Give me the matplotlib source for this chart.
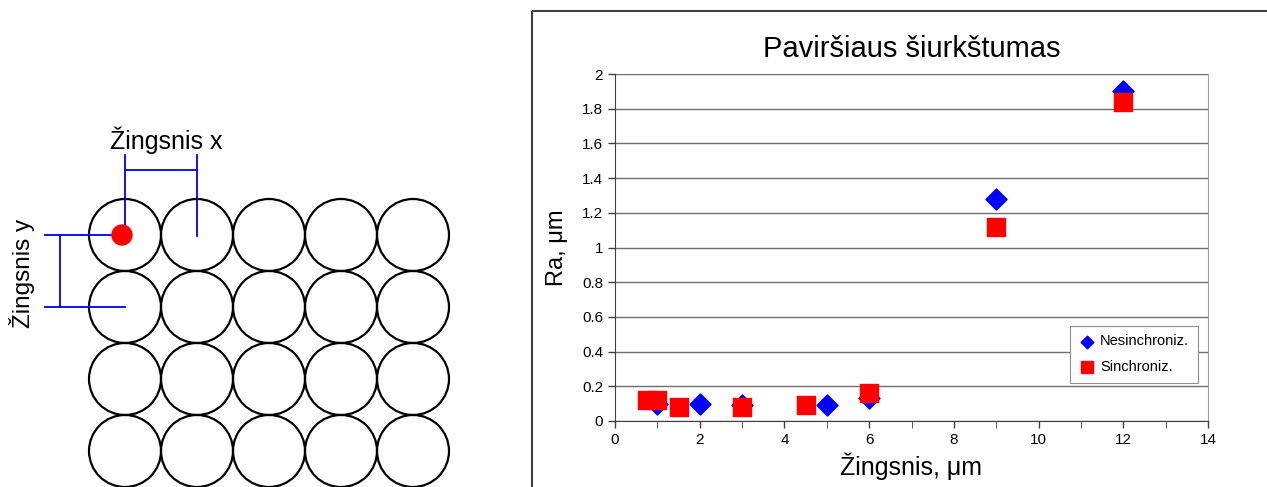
import numpy as np
import matplotlib.pyplot as plt
from matplotlib.patches import Circle, Rectangle

plt.rcParams['font.family'] = ['Liberation Sans', 'DejaVu Sans']

# Duomenys: paviršiaus šiurkštumas Ra (µm) pagal žingsnį (µm)
nesinch_x = [1, 2, 3, 5, 6, 9, 12]
nesinch_ra = [0.10, 0.10, 0.09, 0.09, 0.13, 1.28, 1.90]
sinch_x = [0.75, 1, 1.5, 3, 4.5, 6, 9, 12]
sinch_ra = [0.12, 0.12, 0.08, 0.08, 0.09, 0.16, 1.12, 1.84]

x_ticks = np.arange(0, 15, 2)
y_ticks = np.arange(0, 2.01, 0.2)

# Schemos tinklelis (apskritimų eilės ir stulpeliai)
n_cols = 5
n_rows = 4

W, H = 1267, 487
fig = plt.figure(figsize=(W / 100, H / 100), dpi=100)

# Fono ašys pikseliais: schema + diagramos rėmelis
bg = fig.add_axes([0, 0, 1, 1])
bg.set_xlim(0, W)
bg.set_ylim(H, 0)
bg.axis('off')

# apskritimai
x0, y0, pitch = 125, 235, 72
r = pitch / 2
for i in range(n_rows):
    for j in range(n_cols):
        bg.add_patch(Circle((x0 + j * pitch, y0 + i * pitch), r, fill=False,
                            ec='black', lw=1.6))

# įrankio taškas
bg.add_patch(Circle((x0 - 3, y0), 10, color='red', zorder=5))

# žingsnio x matmuo
blue = '#0000ee'
bg.plot([x0, x0], [155, y0], color=blue, lw=1.3)
bg.plot([x0 + pitch, x0 + pitch], [155, y0 + 1], color=blue, lw=1.3)
bg.plot([x0, x0 + pitch], [170, 170], color=blue, lw=1.3)
bg.text(x0 + pitch / 2 + 5, 140, 'Žingsnis x', fontsize=18, ha='center', va='center')

# žingsnio y matmuo
bg.plot([45, x0 - 12], [y0, y0], color=blue, lw=1.3)
bg.plot([45, x0], [y0 + pitch, y0 + pitch], color=blue, lw=1.3)
bg.plot([60, 60], [y0, y0 + pitch], color=blue, lw=1.3)
bg.text(22, 273, 'Žingsnis y', fontsize=17.5, ha='center', va='center', rotation=90)

# diagramos rėmelis
bg.add_patch(Rectangle((532, 11), 800, 600, fill=False, ec='#404040', lw=1.5))

# Diagrama
ax = fig.add_axes([615 / W, 1 - 421 / H, 593 / W, 347 / H])
ax.scatter(nesinch_x, nesinch_ra, marker='D', s=115, color='#0000ff',
           label='Nesinchroniz.', zorder=3, clip_on=False)
ax.scatter(sinch_x, sinch_ra, marker='s', s=185, color='#ff0000',
           label='Sinchroniz.', zorder=4, clip_on=False)

ax.set_xlim(0, 14)
ax.set_ylim(0, 2)
ax.set_xticks(x_ticks)
ax.set_xticks(np.arange(0, 15, 1), minor=True)
ax.set_yticks(y_ticks)
ax.set_xticklabels([f'{v:g}' for v in x_ticks])
ax.set_yticklabels([f'{v:g}' for v in y_ticks])
ax.tick_params(axis='both', labelsize=11, direction='out', length=5,
               color='#404040', width=1)
ax.tick_params(axis='x', which='minor', length=5, color='#404040')
ax.grid(axis='y', color='#6e6e6e', lw=1)
ax.set_axisbelow(True)
for s in ['left', 'bottom']:
    ax.spines[s].set_color('#404040')
for s in ['top', 'right']:
    ax.spines[s].set_color('#a0a0a0')
    ax.spines[s].set_linewidth(0.8)
ax.spines['top'].set_visible(False)

ax.set_title('Paviršiaus šiurkštumas', fontsize=21, pad=12)
ax.set_xlabel('Žingsnis, μm', fontsize=18, labelpad=4)
ax.set_ylabel('Ra, μm', fontsize=17, labelpad=10)

leg = ax.legend(loc='lower right', bbox_to_anchor=(0.983, 0.11), fontsize=10.5,
                frameon=True, fancybox=False, edgecolor='#909090',
                markerscale=0.6, handletextpad=0.3, borderpad=0.6,
                labelspacing=0.8, handlelength=1.2, framealpha=1,
                borderaxespad=0)
leg.get_frame().set_linewidth(0.8)

fig.savefig('out.png', dpi=100)
